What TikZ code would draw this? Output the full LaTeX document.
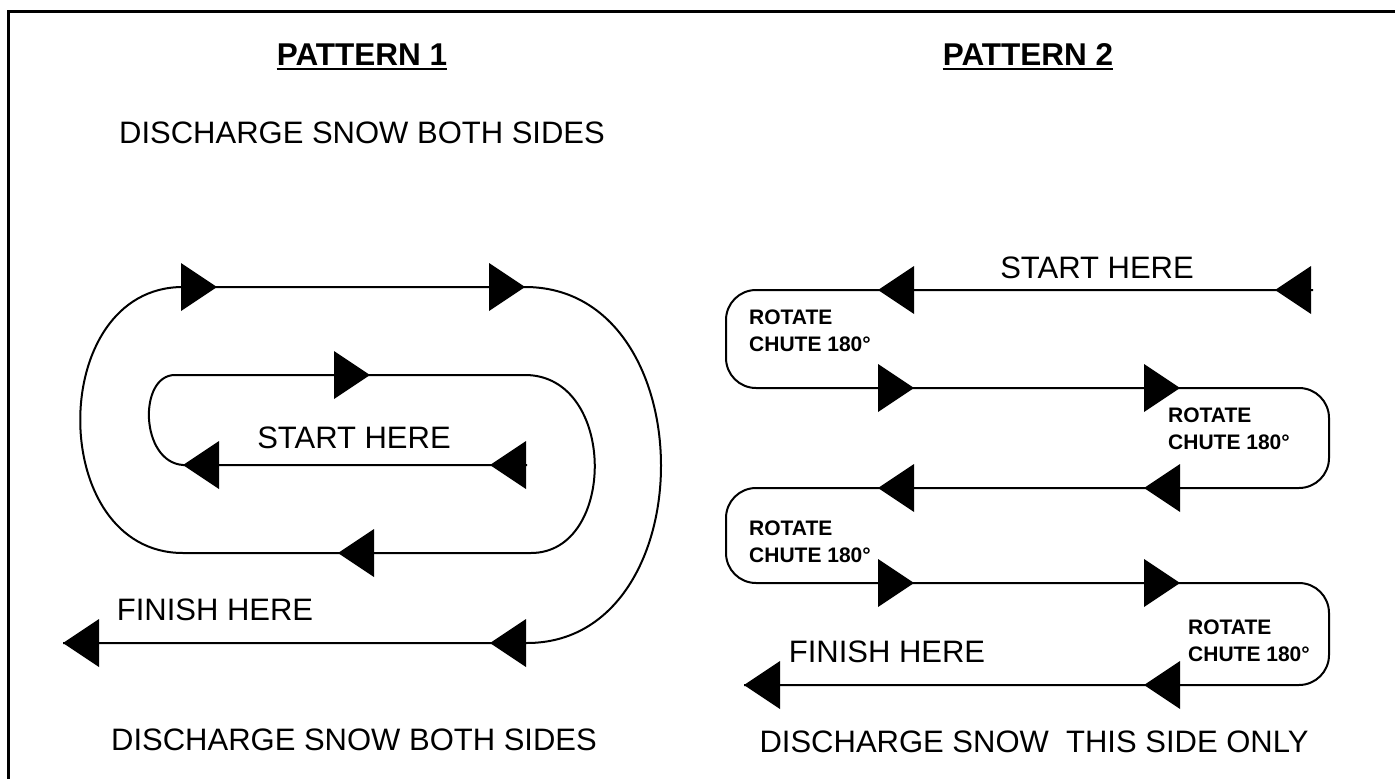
\documentclass[tikz,border=0pt]{standalone}
\usepackage{fontspec}
\setmainfont{Liberation Sans}
\usetikzlibrary{calc}

\tikzset{
  tri/.pic={\fill (0,0) -- (-36,-24) -- (-36,24) -- cycle;},
  pointleft/.style={rotate=180},
  track/.style={line width=2pt},
  txt/.style={anchor=base, inner sep=0pt, font=\fontsize{31}{36}\selectfont},
  heading/.style={txt, font=\bfseries\fontsize{31.5}{36}\selectfont},
  rotnote/.style={anchor=west, inner sep=0pt, align=left, font=\bfseries\fontsize{21}{27}\selectfont},
}

\begin{document}
\begin{tikzpicture}[x=1pt, y=-1pt]
\useasboundingbox (0,0) rectangle (1395,779);
% frame
\draw[line width=3pt] (8,779) -- (8,11) -- (1395,11);

% ---- pattern 1
\node[heading] (title1) at (362,65) {PATTERN 1};
\draw[line width=2.5pt] ($(title1.south west)+(0,4)$) -- ($(title1.south east)+(0,4)$);
\node[txt] (top1) at (362,143) {DISCHARGE SNOW BOTH SIDES};
\node[txt] (start1) at (354,448) {START HERE};
\node[txt] (finish1) at (215,620) {FINISH HERE};
\node[txt] (bottom1) at (354,750) {DISCHARGE SNOW BOTH SIDES};

\coordinate (a1) at (183,287); \coordinate (a2) at (525,287);
\coordinate (b1) at (175,375); \coordinate (b2) at (525,375);
\coordinate (c1) at (183,465); \coordinate (c2) at (527,465);
\coordinate (d1) at (183,553); \coordinate (d2) at (531,553);
\coordinate (e1) at (63,643);  \coordinate (e2) at (527,643);

\draw[track] (c2) -- (c1) .. controls (140,462) and (138,375) .. (b1)
  -- (b2) .. controls (617,375) and (617,553) .. (d2)
  -- (d1) .. controls (46,553) and (46,287) .. (a1)
  -- (a2) .. controls (706,287) and (706,643) .. (e2) -- (e1);

\foreach \x/\y in {217/287, 525/287, 370/375}
  \pic at (\x,\y) {tri};
\foreach \x/\y in {183/465, 490/465, 338/553, 63/643, 490/643}
  \pic[pointleft] at (\x,\y) {tri};

% ---- pattern 2
\node[heading] (title2) at (1028,65) {PATTERN 2};
\draw[line width=2.5pt] ($(title2.south west)+(0,4)$) -- ($(title2.south east)+(0,4)$);
\node[txt] (start2) at (1097,278) {START HERE};
\node[txt] (finish2) at (887,662) {FINISH HERE};
\node[txt] (bottom2) at (1034,752) {DISCHARGE SNOW \ THIS SIDE ONLY};

\node[rotnote] (rot1) at (749,331) {ROTATE\\CHUTE 180°};
\node[rotnote] (rot2) at (1168,429) {ROTATE\\CHUTE 180°};
\node[rotnote] (rot3) at (749,542) {ROTATE\\CHUTE 180°};
\node[rotnote] (rot4) at (1188,641) {ROTATE\\CHUTE 180°};

\coordinate (s1) at (1313,290);
\coordinate (l1) at (726,290);  \coordinate (l2) at (726,388);
\coordinate (r2) at (1329,388); \coordinate (r3) at (1329,488);
\coordinate (l3) at (726,488);  \coordinate (l4) at (726,583);
\coordinate (r4) at (1329,583); \coordinate (r5) at (1329,685);
\coordinate (s5) at (744,685);

\draw[track, rounded corners=30pt] (s1) -- (l1) -- (l2) -- (r2) -- (r3)
  -- (l3) -- (l4) -- (r4) -- (r5) -- (s5);

\foreach \x/\y in {914/388, 1180/388, 914/583, 1180/583}
  \pic at (\x,\y) {tri};
\foreach \x/\y in {878/290, 1275/290, 878/488, 1144/488, 744/685, 1144/685}
  \pic[pointleft] at (\x,\y) {tri};
\end{tikzpicture}
\end{document}
